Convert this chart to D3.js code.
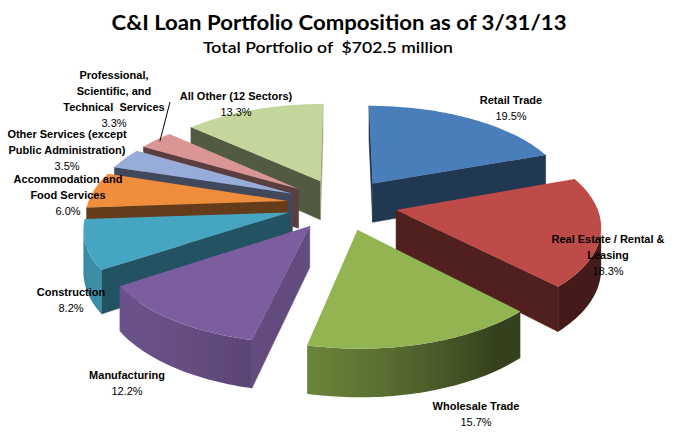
<!DOCTYPE html>
<html>
<head>
<meta charset="utf-8">
<script src="https://cdn.jsdelivr.net/npm/d3@7"></script>
<style>
  body { margin: 0; background: #fff; }
  svg { display: block; }
  text { white-space: pre; }
</style>
</head>
<body>
<div id="chart"></div>
<script>
// sectors, clockwise from 12 o'clock
const sectors = ["Retail Trade", "Real Estate / Rental & Leasing", "Wholesale Trade", "Manufacturing",
    "Construction", "Accommodation and Food Services", "Other Services (except Public Administration)",
    "Professional, Scientific, and Technical Services", "All Other (12 Sectors)"];
const shares = [19.5, 18.3, 15.7, 12.2, 8.2, 6.0, 3.5, 3.3, 13.3];
const labelLines = [
    ["Retail Trade"],
    ["Real Estate / Rental &", "Leasing"],
    ["Wholesale Trade"],
    ["Manufacturing"],
    ["Construction"],
    ["Accommodation and", "Food Services"],
    ["Other Services (except", "Public Administration)"],
    ["Professional,", "Scientific, and", "Technical  Services"],
    ["All Other (12 Sectors)"]
];
const sliceColors = ["#4a7ebb", "#be4b48", "#93b551", "#7c5e9f", "#46a5c1", "#f08d3c", "#98acda", "#d99694", "#c3d69b"];

const title = "C&I Loan Portfolio Composition as of 3/31/13";
const subtitle = "Total Portfolio of  $702.5 million";

// label anchors (centre x, first baseline)
const labelAt = [[511, 104], [608, 243], [476, 410], [127, 379], [71, 296], [68, 183], [67, 138], [114, 79], [236, 100]];

const width = 681, height = 440;

// fake 3d view
const cx = 342, cy = 204;
const R = 200, tilt = 0.47, dist = 1420, depth = 40, explode = 55;
const deg = Math.PI / 180;

function proj(X, Z, Y) {
    const k = dist / (dist - Z);
    return [cx + X * k, cy + (Z * tilt + Y) * k];
}

const svg = d3.select("#chart")
    .append("svg")
    .attr("width", width)
    .attr("height", height);
const defs = svg.append("defs");

const pie = d3.pie().sort(null).value(d => d);
const arcs = pie(shares).map(function (a, i) {
    const mid = (a.startAngle + a.endAngle) / 2;
    return {
        i: i,
        a0: a.startAngle,
        a1: a.endAngle,
        mid: mid,
        ox: explode * Math.sin(mid),
        oz: -explode * Math.cos(mid)
    };
});

let line = d3.line();

function pt(s, ang, rad, Y) {
    return proj(s.ox + rad * Math.sin(ang), s.oz - rad * Math.cos(ang), Y);
}

// face visible if outward normal points toward the camera
function facing(nx, nz, px, pz) {
    return nx * (0 - px) + nz * (dist - pz) > 0;
}

const shade = function (c, f) {
    return d3.interpolateRgb("#000", c)(f);
};

const pieG = svg.append("g");

// back slices first
arcs.slice().sort((a, b) => a.oz - b.oz).forEach(function (s) {
    const g = pieG.append("g");
    const col = sliceColors[s.i];

    // radial walls
    [[s.a0, s.a0 - Math.PI / 2], [s.a1, s.a1 + Math.PI / 2]].forEach(function (w) {
        const nx = Math.sin(w[1]), nz = -Math.cos(w[1]);
        if (!facing(nx, nz, s.ox, s.oz)) return;
        const f = 0.42 + 0.38 * Math.pow(Math.max(0, Math.cos(w[1] - 100 * deg)), 4);
        const poly = [pt(s, 0, 0, 0), pt(s, w[0], R, 0), pt(s, w[0], R, depth), pt(s, 0, 0, depth)];
        g.append("path")
            .attr("d", line(poly) + "Z")
            .attr("fill", shade(col, f))
            .attr("stroke", shade(col, f))
            .attr("stroke-width", 0.5);
    });

    // outer wall: visible part as one path with a gradient
    const n = Math.max(2, Math.ceil((s.a1 - s.a0) / 0.02));
    const step = (s.a1 - s.a0) / n;
    const vis = [];
    for (let j = 0; j <= n; j++) {
        const ang = s.a0 + j * step;
        const nx = Math.sin(ang), nz = -Math.cos(ang);
        if (facing(nx, nz, s.ox + R * nx, s.oz + R * nz)) vis.push(ang);
    }
    if (vis.length > 1) {
        const topPts = vis.map(a => pt(s, a, R, 0));
        const botPts = vis.map(a => pt(s, a, R, depth)).reverse();
        const xs = topPts.map(p => p[0]);
        const x0 = d3.min(xs), x1 = d3.max(xs);
        const gid = "wall" + s.i;
        const grad = defs.append("linearGradient")
            .attr("id", gid)
            .attr("gradientUnits", "userSpaceOnUse")
            .attr("x1", x0).attr("x2", x1)
            .attr("y1", 0).attr("y2", 0);
        const stops = vis.map((a, j) => [(xs[j] - x0) / Math.max(1, x1 - x0), a])
            .sort((p, q) => p[0] - q[0]);
        stops.forEach(function (st) {
            const f = 0.36 + 0.5 * Math.max(0, Math.cos(st[1] - 235 * deg));
            grad.append("stop")
                .attr("offset", st[0])
                .attr("stop-color", shade(col, f));
        });
        g.append("path")
            .attr("d", line(topPts.concat(botPts)) + "Z")
            .attr("fill", "url(#" + gid + ")");
    }

    // top face
    const top = [pt(s, 0, 0, 0)];
    for (let j = 0; j <= n; j++) top.push(pt(s, s.a0 + j * step, R, 0));
    g.append("path")
        .attr("d", line(top) + "Z")
        .attr("fill", col);
});

// leader line for the small professional slice
const prof = arcs[7];
const lEnd = pt(prof, prof.mid, R * 0.97, 0);
svg.append("line")
    .attr("x1", 170).attr("y1", 102)
    .attr("x2", lEnd[0]).attr("y2", lEnd[1])
    .attr("stroke", "#000")
    .attr("stroke-width", 1);

// labels
const labels = svg.append("g")
    .attr("font-family", "'Liberation Sans', Arial, sans-serif")
    .attr("font-size", 11)
    .attr("fill", "#000")
    .attr("text-anchor", "middle");

arcs.forEach(function (s) {
    const p = labelAt[s.i];
    const t = labels.append("text").attr("x", p[0]).attr("y", p[1]);
    labelLines[s.i].forEach(function (l, j) {
        t.append("tspan")
            .attr("x", p[0])
            .attr("dy", j === 0 ? 0 : 16)
            .attr("font-weight", "bold")
            .text(l);
    });
    t.append("tspan")
        .attr("x", p[0])
        .attr("dy", 16)
        .text(shares[s.i].toFixed(1) + "%");
});

// titles
svg.append("text")
    .attr("x", 339).attr("y", 30)
    .attr("text-anchor", "middle")
    .attr("font-family", "Lato, 'Open Sans', sans-serif")
    .attr("font-weight", "bold")
    .attr("font-size", 21)
    .attr("textLength", 455)
    .attr("lengthAdjust", "spacingAndGlyphs")
    .text(title);

svg.append("text")
    .attr("x", 328).attr("y", 53)
    .attr("text-anchor", "middle")
    .attr("font-family", "Lato, 'Open Sans', sans-serif")
    .attr("font-weight", 600)
    .attr("font-size", 16)
    .attr("textLength", 250)
    .attr("lengthAdjust", "spacingAndGlyphs")
    .text(subtitle);
</script>
</body>
</html>
